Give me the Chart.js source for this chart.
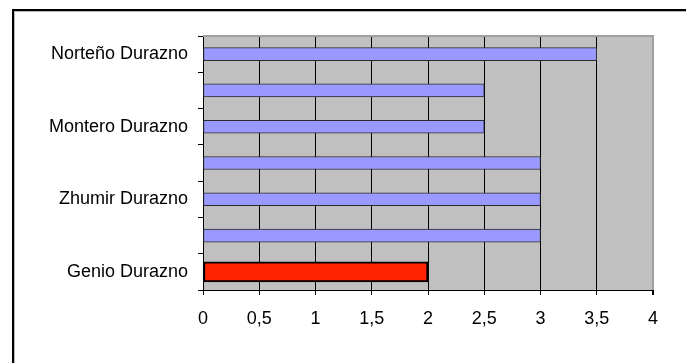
<!DOCTYPE html>
<html>
<head>
<meta charset="utf-8">
<script src="https://cdn.jsdelivr.net/npm/chart.js@4/dist/chart.umd.min.js"></script>
<style>
  html, body { margin: 0; padding: 0; background: #fff; }
  #wrap { width: 686px; height: 363px; position: relative; }
</style>
</head>
<body>
<div id="wrap"><canvas id="durazno"></canvas></div>
<script>
// categorías de arriba hacia abajo; las vacías no llevan rótulo
const categorias = ["Norteño Durazno", "", "Montero Durazno", "", "Zhumir Durazno", "", "Genio Durazno"];
const valores = [3.5, 2.5, 2.5, 3, 3, 3, 2];
const destacado = [false, false, false, false, false, false, true];
const ticksX = [0, 0.5, 1, 1.5, 2, 2.5, 3, 3.5, 4];

const font = { family: "'Liberation Sans', Arial, sans-serif", size: 18 };

// fondo gris del área de trazado y marco exterior
const marco = {
  id: "marco",
  beforeDraw(chart) {
    const { ctx, chartArea: a } = chart;
    ctx.save();
    ctx.fillStyle = "#c0c0c0";
    ctx.fillRect(a.left, a.top, a.right - a.left, a.bottom - a.top);
    ctx.fillStyle = "#000";
    ctx.fillRect(12, 9, chart.width - 12, 2);
    ctx.fillRect(12, 9, 2, chart.height - 9);
    ctx.fillStyle = "#b8b8b8";
    ctx.fillRect(14, 11, chart.width - 14, 1);
    ctx.fillRect(14, 11, 1, chart.height - 11);
    ctx.restore();
  },
  beforeDatasetsDraw(chart) {
    const { ctx, chartArea: a } = chart;
    ctx.save();
    ctx.fillStyle = "#a0a0a0";
    ctx.fillRect(a.left, a.top - 1, a.right - a.left + 1, 2);
    ctx.restore();
  }
};

new Chart(document.getElementById("durazno"), {
  type: "bar",
  data: {
    labels: categorias,
    datasets: [
      {
        data: valores.map((v, i) => destacado[i] ? null : v),
        backgroundColor: "#9999ff",
        borderColor: "#2a2a2a",
        borderWidth: 1,
        borderSkipped: false,
        barThickness: 13,
        grouped: false
      },
      {
        data: valores.map((v, i) => destacado[i] ? v : null),
        backgroundColor: "#ff2200",
        borderColor: "#000",
        borderWidth: 2,
        borderSkipped: false,
        barThickness: 20,
        grouped: false
      }
    ]
  },
  options: {
    indexAxis: "y",
    responsive: true,
    maintainAspectRatio: false,
    animation: false,
    layout: { padding: { left: 0, top: 36, right: 33, bottom: 0 } },
    plugins: { legend: { display: false }, tooltip: { enabled: false } },
    scales: {
      x: {
        type: "linear",
        min: 0,
        max: 4,
        afterBuildTicks: scale => { scale.ticks = ticksX.map(v => ({ value: v })); },
        afterFit: scale => { scale.height = 73; },
        ticks: {
          color: "#000",
          font: font,
          padding: 13,
          maxRotation: 0,
          callback: v => String(v).replace(".", ",")
        },
        grid: {
          color: c => c.tick && c.tick.value === 4 ? "#a0a0a0" : "#000",
          tickColor: "#000",
          tickLength: 5,
          lineWidth: c => c.tick && c.tick.value === 4 ? 2 : 1
        },
        border: { display: true, color: "#000" }
      },
      y: {
        afterFit: scale => { scale.width = 203; },
        ticks: {
          color: "#000",
          font: font,
          padding: 10,
          autoSkip: false
        },
        grid: {
          offset: true,
          drawOnChartArea: false,
          color: "#000",
          tickLength: 5
        },
        border: { display: true, color: "#000" }
      }
    }
  },
  plugins: [marco]
});
</script>
</body>
</html>
